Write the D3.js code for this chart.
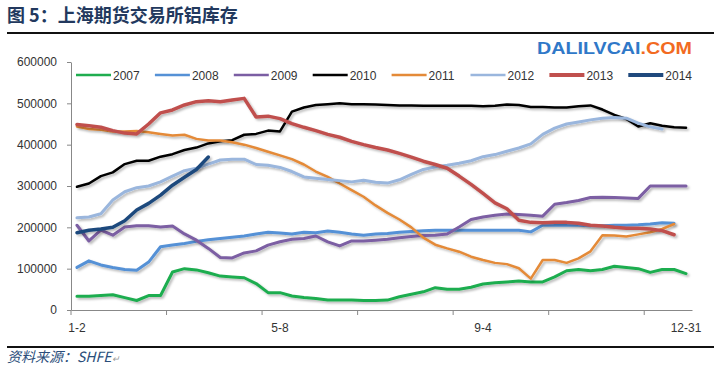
<!DOCTYPE html>
<html>
<head>
<meta charset="utf-8">
<script src="https://cdn.jsdelivr.net/npm/d3@7"></script>
<style>
  body { margin: 0; background: #ffffff; }
  svg { display: block; }
  .axis text { font-family: "Liberation Sans", Arial, sans-serif; font-size: 12px; fill: #333333; }
</style>
</head>
<body>
<svg id="svg1" width="714" height="370"></svg>
<script>
// chart size
const width = 714;
const height = 370;

// categories: 52 weekly points, only some are labelled
const weeks = d3.range(52);
const tickIndex = [0, 17, 34, 51];
const tickLabels = ["1-2", "5-8", "9-4", "12-31"];
const yTicks = [0, 100000, 200000, 300000, 400000, 500000, 600000];

const years = ["2007", "2008", "2009", "2010", "2011", "2012", "2013", "2014"];

// values (tonnes)
const y2007 = [33000, 33000, 35000, 37000, 30000, 23000, 35000, 35000, 92000, 100000,
               97000, 90000, 82000, 80000, 78000, 64000, 42000, 42000, 34000, 30000,
               28000, 24000, 24000, 24000, 23000, 23000, 24000, 32000, 38000, 44000,
               54000, 50000, 50000, 55000, 63000, 66000, 68000, 70000, 68000, 68000,
               80000, 95000, 98000, 95000, 98000, 106000, 103000, 100000, 91000, 98000,
               98000, 88000];
const y2008 = [103000, 119000, 109000, 103000, 98000, 96000, 116000, 153000, 157000, 161000,
               166000, 170000, 173000, 176000, 179000, 184000, 188000, 186000, 184000, 188000,
               187000, 191000, 188000, 184000, 181000, 184000, 185000, 188000, 190000, 192000,
               193000, 193000, 193000, 193000, 193000, 193000, 193000, 193000, 189000, 205000,
               205000, 205000, 205000, 204000, 204000, 205000, 205000, 206000, 208000, 211000,
               210000];
const y2009 = [205000, 167000, 193000, 181000, 201000, 204000, 204000, 201000, 203000, 184000,
               169000, 149000, 127000, 126000, 138000, 143000, 157000, 165000, 171000, 173000,
               179000, 165000, 155000, 167000, 167000, 169000, 171000, 175000, 178000, 180000,
               181000, 184000, 201000, 219000, 225000, 229000, 232000, 231000, 229000, 227000,
               256000, 260000, 265000, 272000, 273000, 272000, 271000, 270000, 300000, 300000,
               300000, 300000];
const y2010 = [298000, 306000, 324000, 333000, 353000, 361000, 361000, 371000, 377000, 387000,
               393000, 403000, 408000, 411000, 424000, 426000, 434000, 432000, 480000, 490000,
               496000, 498000, 500000, 498000, 498000, 497000, 496000, 495000, 495000, 494000,
               494000, 494000, 494000, 494000, 493000, 494000, 497000, 496000, 491000, 491000,
               490000, 490000, 493000, 495000, 485000, 472000, 462000, 444000, 452000, 446000,
               442000, 441000];
const y2011 = [444000, 438000, 436000, 432000, 432000, 433000, 430000, 426000, 422000, 424000,
               414000, 410000, 410000, 406000, 400000, 392000, 383000, 374000, 365000, 352000,
               335000, 322000, 306000, 290000, 274000, 253000, 235000, 219000, 200000, 175000,
               158000, 149000, 141000, 129000, 121000, 114000, 111000, 101000, 76000, 121000,
               121000, 114000, 125000, 142000, 181000, 180000, 178000, 183000, 188000, 196000,
               208000];
const y2012 = [223000, 225000, 233000, 266000, 286000, 296000, 300000, 310000, 324000, 337000,
               343000, 353000, 363000, 365000, 365000, 352000, 350000, 345000, 335000, 322000,
               319000, 316000, 313000, 310000, 314000, 309000, 307000, 315000, 328000, 340000,
               346000, 350000, 355000, 361000, 371000, 376000, 384000, 392000, 402000, 425000,
               440000, 450000, 455000, 460000, 464000, 466000, 464000, 452000, 443000, 438000];
const y2013 = [449000, 446000, 442000, 434000, 428000, 426000, 450000, 477000, 484000, 496000,
               504000, 506000, 504000, 508000, 512000, 467000, 469000, 463000, 451000, 442000,
               434000, 425000, 418000, 408000, 400000, 393000, 387000, 379000, 370000, 360000,
               352000, 343000, 324000, 304000, 282000, 259000, 245000, 217000, 212000, 211000,
               212000, 212000, 210000, 205000, 203000, 200000, 198000, 198000, 196000, 192000,
               182000];
const y2014 = [187000, 193000, 196000, 200000, 216000, 242000, 258000, 278000, 302000, 321000,
               340000, 370000];

const seriesValues = [y2007, y2008, y2009, y2010, y2011, y2012, y2013, y2014];
const colors = ["#1fad4f", "#5591d6", "#7b5ea3", "#000000", "#e48a38", "#9ab6dd", "#c0504d", "#1f497d"];
const widths = [3, 3, 3, 2.5, 2.5, 3, 3.5, 3.5];

const svg = d3.select("#svg1");

// shadow like the office chart lines
const defs = svg.append("defs");
defs.append("filter")
    .attr("id", "shadow")
    .attr("x", "-5%").attr("y", "-5%")
    .attr("width", "110%").attr("height", "120%")
    .append("feDropShadow")
    .attr("dx", 1.8)
    .attr("dy", 1.8)
    .attr("stdDeviation", 1.1)
    .attr("flood-color", "#000")
    .attr("flood-opacity", 0.28);

// header
svg.append("text")
    .attr("x", 7)
    .attr("y", 22)
    .style("font-family", "'Noto Sans CJK SC', sans-serif")
    .style("font-weight", "bold")
    .style("font-size", "18px")
    .style("fill", "#22395e")
    .text("图 5：上海期货交易所铝库存");

svg.append("line")
    .attr("x1", 7).attr("x2", width)
    .attr("y1", 33).attr("y2", 33)
    .attr("stroke", "#111").attr("stroke-width", 2);

const logo = svg.append("text")
    .attr("x", 537)
    .attr("y", 54)
    .attr("textLength", 155)
    .attr("lengthAdjust", "spacingAndGlyphs")
    .style("font-family", "'Liberation Sans', Arial, sans-serif")
    .style("font-weight", "bold")
    .style("font-size", "17px");
logo.append("tspan").style("fill", "#2f78c8").text("DALILVCAI");
logo.append("tspan").style("fill", "#f26a21").text(".COM");

// scales
const xScale = d3.scaleBand()
    .domain(weeks)
    .range([71, 692])
    .padding(0);

const xMid = i => xScale(i) + xScale.bandwidth() / 2;

const yScale = d3.scaleLinear()
    .domain([0, 600000])
    .range([310, 62]);

// axes
const leftAxis = d3.axisLeft(yScale)
    .tickValues(yTicks)
    .tickSize(4)
    .tickSizeOuter(0)
    .tickPadding(10)
    .tickFormat(d3.format("d"));

svg.append("g")
    .attr("class", "axis")
    .attr("transform", "translate(71,0)")
    .call(leftAxis)
    .call(g => g.selectAll("line, path").attr("stroke", "#888"));

const bottomAxis = d3.axisBottom(xScale)
    .tickValues(tickIndex)
    .tickSize(0)
    .tickSizeOuter(0)
    .tickPadding(13)
    .tickFormat(d => tickLabels[tickIndex.indexOf(d)]);

svg.append("g")
    .attr("class", "axis")
    .attr("transform", "translate(0,310)")
    .call(bottomAxis)
    .call(g => g.select("path").attr("stroke", "#888"));

// tick marks every 8 weeks on the category boundaries
svg.append("g")
    .selectAll("line")
    .data(weeks.filter(i => i % 8 === 0))
    .join("line")
    .attr("x1", d => xScale(d))
    .attr("x2", d => xScale(d))
    .attr("y1", 310)
    .attr("y2", 315)
    .attr("stroke", "#888");

// lines
const line = d3.line()
    .x((d, i) => xMid(i))
    .y(d => yScale(d));

svg.append("g")
    .selectAll("path")
    .data(seriesValues)
    .join("path")
    .attr("d", d => line(d))
    .attr("fill", "none")
    .attr("stroke", (d, i) => colors[i])
    .attr("stroke-width", (d, i) => widths[i])
    .attr("stroke-linejoin", "round")
    .attr("stroke-linecap", "round")
    .attr("filter", "url(#shadow)");

// legend
const legend = svg.append("g")
    .selectAll("g")
    .data(years)
    .join("g")
    .attr("transform", (d, i) => "translate(" + (76 + i * 78.9) + ",75)");

legend.append("line")
    .attr("x1", 0).attr("x2", 35)
    .attr("y1", 0).attr("y2", 0)
    .attr("stroke", (d, i) => colors[i])
    .attr("stroke-width", (d, i) => i >= 6 ? 4 : 2.5);

legend.append("text")
    .attr("x", 37)
    .attr("y", 4.5)
    .style("font-family", "'Liberation Sans', Arial, sans-serif")
    .style("font-size", "12px")
    .style("fill", "#333")
    .text(d => d);

// footer
svg.append("line")
    .attr("x1", 7).attr("x2", width)
    .attr("y1", 347).attr("y2", 347)
    .attr("stroke", "#111").attr("stroke-width", 2);

const source = svg.append("text")
    .attr("x", 7)
    .attr("y", 362)
    .style("font-family", "'Noto Sans CJK SC', sans-serif")
    .style("font-style", "italic")
    .style("font-size", "14px")
    .style("fill", "#2a4d7a");
source.append("tspan").text("资料来源：SHFE");
source.append("tspan").style("font-size", "9px").style("fill", "#999").text("↵");
</script>
</body>
</html>
